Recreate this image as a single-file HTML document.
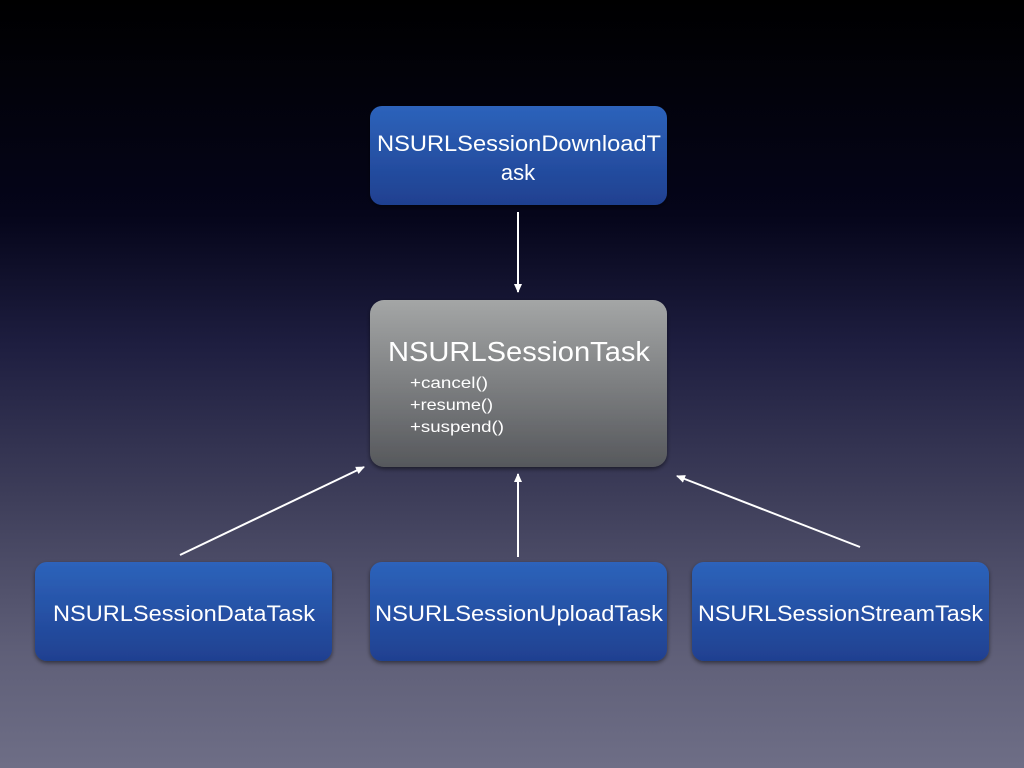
<!DOCTYPE html>
<html><head><meta charset="utf-8"><style>
html,body{margin:0;padding:0;width:1024px;height:768px;overflow:hidden}
body{background:linear-gradient(to bottom,#000 0%,#05051a 28%,#1e1e40 45%,#3e3e5a 65%,#5f5f78 85%,#6e6e86 100%)}
</style></head><body>
<svg width="1024" height="768" xmlns="http://www.w3.org/2000/svg" style="position:absolute;left:0;top:0">
<defs>
<linearGradient id="b" x1="0" y1="0" x2="0" y2="1"><stop offset="0" stop-color="#2d63bb"/><stop offset="1" stop-color="#1f4090"/></linearGradient>
<linearGradient id="g" x1="0" y1="0" x2="0" y2="1"><stop offset="0" stop-color="#a4a6a6"/><stop offset="1" stop-color="#56585c"/></linearGradient>
<filter id="s" x="-10%" y="-10%" width="120%" height="130%"><feDropShadow dx="0" dy="2" stdDeviation="2" flood-color="#000" flood-opacity="0.5"/></filter>
<marker id="a" markerWidth="10" markerHeight="10" refX="8" refY="5" orient="auto" markerUnits="userSpaceOnUse"><path d="M0,1 L9,5 L0,9 Z" fill="#fff"/></marker>
</defs>
<g filter="url(#s)">
<rect x="370" y="106" width="297" height="99" rx="12" fill="url(#b)"/>
<rect x="370" y="300" width="297" height="167" rx="14" fill="url(#g)"/>
<rect x="35" y="562" width="297" height="99" rx="12" fill="url(#b)"/>
<rect x="370" y="562" width="297" height="99" rx="12" fill="url(#b)"/>
<rect x="692" y="562" width="297" height="99" rx="12" fill="url(#b)"/>
</g>
<g stroke="#fff" stroke-width="2" fill="none">
<line x1="518" y1="212" x2="518" y2="292" marker-end="url(#a)"/>
<line x1="180" y1="555" x2="364" y2="467" marker-end="url(#a)"/>
<line x1="518" y1="557" x2="518" y2="474" marker-end="url(#a)"/>
<line x1="860" y1="547" x2="677" y2="476" marker-end="url(#a)"/>
</g>
<g fill="#fff" font-family="Liberation Sans, sans-serif">
<text x="377" y="151" font-size="22" textLength="284" lengthAdjust="spacingAndGlyphs">NSURLSessionDownloadT</text>
<text x="518" y="180" font-size="22" text-anchor="middle">ask</text>
<text x="388" y="361" font-size="28" textLength="262" lengthAdjust="spacingAndGlyphs">NSURLSessionTask</text>
<text x="410" y="388" font-size="16" textLength="78" lengthAdjust="spacingAndGlyphs">+cancel()</text>
<text x="410" y="410" font-size="16" textLength="83" lengthAdjust="spacingAndGlyphs">+resume()</text>
<text x="410" y="432" font-size="16" textLength="94" lengthAdjust="spacingAndGlyphs">+suspend()</text>
<text x="53" y="621" font-size="22" textLength="262" lengthAdjust="spacingAndGlyphs">NSURLSessionDataTask</text>
<text x="375" y="621" font-size="22" textLength="288" lengthAdjust="spacingAndGlyphs">NSURLSessionUploadTask</text>
<text x="698" y="621" font-size="22" textLength="285" lengthAdjust="spacingAndGlyphs">NSURLSessionStreamTask</text>
</g>
</svg>
</body></html>
